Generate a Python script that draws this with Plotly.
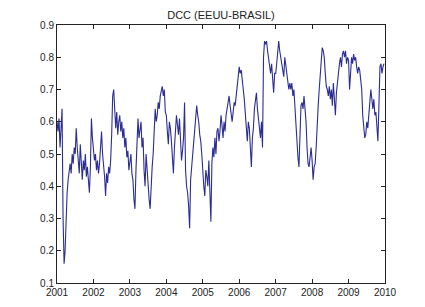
import plotly.graph_objects as go

years = [2001, 2002, 2003, 2004, 2005, 2006, 2007, 2008, 2009]

dcc_2001 = [0.60, 0.57, 0.61, 0.52, 0.58, 0.64, 0.30, 0.16, 0.20, 0.31, 0.38, 0.42,
            0.44, 0.47, 0.44, 0.50, 0.47, 0.52, 0.50, 0.58, 0.52, 0.49, 0.44, 0.53,
            0.47, 0.42, 0.48, 0.45, 0.50, 0.43, 0.46, 0.42, 0.38, 0.46, 0.61, 0.55]
dcc_2002 = [0.52, 0.48, 0.50, 0.45, 0.48, 0.44, 0.47, 0.52, 0.57, 0.50, 0.47, 0.43,
            0.37, 0.44, 0.41, 0.46, 0.44, 0.48, 0.56, 0.68, 0.70, 0.63, 0.58, 0.63,
            0.56, 0.60, 0.62, 0.57, 0.60, 0.55, 0.58, 0.52, 0.55, 0.49, 0.51, 0.45]
dcc_2003 = [0.47, 0.50, 0.44, 0.42, 0.36, 0.33, 0.45, 0.55, 0.61, 0.55, 0.58, 0.60,
            0.52, 0.55, 0.45, 0.40, 0.50, 0.44, 0.40, 0.36, 0.33, 0.42, 0.46, 0.50,
            0.58, 0.64, 0.60, 0.62, 0.66, 0.64, 0.68, 0.70, 0.71, 0.68, 0.70, 0.63]
dcc_2004 = [0.62, 0.57, 0.53, 0.60, 0.58, 0.54, 0.47, 0.44, 0.52, 0.56, 0.62, 0.59,
            0.56, 0.61, 0.54, 0.48, 0.51, 0.55, 0.66, 0.45, 0.40, 0.38, 0.34, 0.27,
            0.42, 0.46, 0.50, 0.55, 0.58, 0.61, 0.65, 0.62, 0.60, 0.56, 0.54, 0.50]
dcc_2005 = [0.44, 0.40, 0.37, 0.45, 0.43, 0.40, 0.48, 0.35, 0.29, 0.47, 0.52, 0.49,
            0.55, 0.50, 0.57, 0.58, 0.54, 0.57, 0.62, 0.59, 0.55, 0.60, 0.57, 0.62,
            0.64, 0.66, 0.68, 0.65, 0.62, 0.60, 0.63, 0.66, 0.65, 0.69, 0.72, 0.74]
dcc_2006 = [0.77, 0.75, 0.76, 0.72, 0.70, 0.67, 0.62, 0.58, 0.54, 0.60, 0.58, 0.52,
            0.46, 0.55, 0.58, 0.64, 0.67, 0.69, 0.64, 0.60, 0.57, 0.55, 0.60, 0.52,
            0.80, 0.85, 0.84, 0.85, 0.82, 0.80, 0.78, 0.75, 0.78, 0.73, 0.69, 0.75]
dcc_2007 = [0.75, 0.78, 0.82, 0.85, 0.82, 0.80, 0.78, 0.76, 0.74, 0.80, 0.77, 0.75,
            0.73, 0.70, 0.72, 0.70, 0.72, 0.68, 0.70, 0.64, 0.62, 0.55, 0.49, 0.46,
            0.55, 0.65, 0.66, 0.64, 0.68, 0.65, 0.60, 0.52, 0.47, 0.46, 0.49, 0.52]
dcc_2008 = [0.48, 0.42, 0.46, 0.47, 0.52, 0.60, 0.65, 0.70, 0.75, 0.79, 0.83, 0.82,
            0.80, 0.75, 0.71, 0.70, 0.68, 0.71, 0.67, 0.70, 0.65, 0.72, 0.68, 0.62,
            0.69, 0.73, 0.75, 0.78, 0.80, 0.77, 0.81, 0.82, 0.80, 0.82, 0.78, 0.80]
dcc_2009 = [0.79, 0.70, 0.77, 0.80, 0.78, 0.81, 0.79, 0.80, 0.77, 0.75, 0.77, 0.76,
            0.73, 0.70, 0.62, 0.58, 0.55, 0.56, 0.60, 0.58, 0.64, 0.66, 0.70, 0.66,
            0.64, 0.67, 0.62, 0.63, 0.58, 0.54, 0.65, 0.77, 0.78, 0.75, 0.77, 0.78]

series = [dcc_2001, dcc_2002, dcc_2003, dcc_2004, dcc_2005,
          dcc_2006, dcc_2007, dcc_2008, dcc_2009]

x, y = [], []
for yr, vals in zip(years, series):
    n = len(vals)
    for k, v in enumerate(vals):
        x.append(yr + k / n)
        y.append(v)

year_ticks = list(range(2001, 2011))
y_ticks = [0.1, 0.2, 0.3, 0.4, 0.5, 0.6, 0.7, 0.8, 0.9]

fig = go.Figure()
fig.add_trace(go.Scatter(x=x, y=y, mode="lines",
                         line=dict(color="#2b2d94", width=1.1)))

axis_common = dict(showline=True, linecolor="#222222", linewidth=1, mirror="allticks",
                   ticks="inside", ticklen=4, tickcolor="#222222", showgrid=False,
                   zeroline=False, tickfont=dict(family="Liberation Sans, Arial", size=10, color="#222222"))

fig.update_xaxes(range=[2001, 2010], tickvals=year_ticks,
                 ticktext=[str(t) for t in year_ticks], **axis_common)
fig.update_yaxes(range=[0.1, 0.9], tickvals=y_ticks,
                 ticktext=[f"{t:.1f}" for t in y_ticks], **axis_common)

fig.update_layout(
    width=425, height=307,
    margin=dict(l=49, r=48, t=17, b=32),
    paper_bgcolor="white", plot_bgcolor="white",
    showlegend=False,
    title=dict(text="DCC (EEUU-BRASIL)", x=0.5, xref="paper", y=1 - 7 / 307,
               yref="container", yanchor="middle", xanchor="center",
               font=dict(family="Liberation Sans, Arial", size=11, color="#222222")),
)

fig.write_html("out.html")
